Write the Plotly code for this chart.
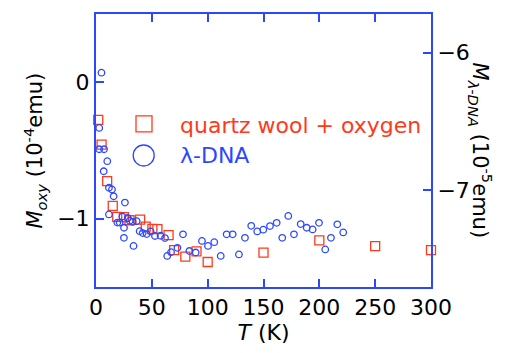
import plotly.graph_objects as go

# quartz wool + oxygen (left axis, 1e-4 emu)
T_oxy = [2, 5, 10, 15, 19, 25, 30, 39.5, 44.5, 50.5, 55, 65, 70, 80, 90, 100, 150, 200, 250, 300]
M_oxy = [-0.276, -0.457, -0.724, -0.906, -0.986, -0.988, -1.011, -1.007, -1.057, -1.074,
         -1.076, -1.12, -1.23, -1.278, -1.239, -1.317, -1.248, -1.159, -1.2, -1.23]

# lambda-DNA (right axis, 1e-5 emu)
T_dna = [4.9, 2.9, 2.9, 7.2, 10.1, 6.9, 11.6, 14.3, 15.8, 25.9, 11.6, 19.1, 21.2, 23.6, 28.4,
         30.2, 25.1, 32.8, 36.4, 25.0, 39.1, 41.8, 45.4, 48.9, 52.8, 57.8, 61.8, 33.6, 63.8,
         67.2, 72.9, 77.9, 83.6, 89.3, 94.9, 100.3, 105.9, 111.7, 117.0, 122.4, 128.0, 133.4,
         139.0, 144.4, 149.8, 155.8, 161.8, 166.8, 172.2, 177.3, 183.3, 188.7, 194.0, 199.7,
         205.3, 210.4, 216.1, 221.4]
M_dna = [-6.146, -6.548, -6.703, -6.703, -6.790, -6.863, -6.983, -6.995, -7.045, -7.091,
         -7.177, -7.236, -7.236, -7.192, -7.203, -7.223, -7.274, -7.231, -7.226, -7.347,
         -7.299, -7.313, -7.320, -7.301, -7.334, -7.332, -7.349, -7.406, -7.479, -7.452,
         -7.420, -7.322, -7.443, -7.454, -7.370, -7.406, -7.379, -7.479, -7.322, -7.322,
         -7.468, -7.347, -7.260, -7.301, -7.288, -7.262, -7.238, -7.347, -7.188, -7.322,
         -7.247, -7.274, -7.286, -7.238, -7.432, -7.347, -7.249, -7.308]

x_ticks = [0, 50, 100, 150, 200, 250, 300]

AX = "#2b48ff"
RED = "#ff3a1a"
BLUE = "#2b48ff"
FONT = "DejaVu Sans"

fig = go.Figure()
fig.add_trace(go.Scatter(x=T_dna, y=M_dna, yaxis="y2", mode="markers", cliponaxis=False,
                         marker=dict(symbol="circle-open", size=6.5, color=BLUE, line=dict(width=1.3)),
                         showlegend=False))
fig.add_trace(go.Scatter(x=T_oxy, y=M_oxy, mode="markers", cliponaxis=False,
                         marker=dict(symbol="square-open", size=9, color=RED, line=dict(width=1.3)),
                         showlegend=False))

fig.update_layout(
    width=506, height=353,
    margin=dict(l=96, r=75, t=13, b=50),
    paper_bgcolor="white", plot_bgcolor="white",
    font=dict(family=FONT, size=21, color="black"),
    xaxis=dict(range=[0, 300], tickvals=x_ticks, ticks="inside", ticklen=8, tickwidth=2,
               tickcolor=AX, showline=True, linecolor=AX, linewidth=2, mirror="ticks",
               showgrid=False, zeroline=False, tickfont=dict(size=22),
               title=dict(text="<i>T</i> (K)", font=dict(size=22), standoff=5)),
    yaxis=dict(range=[-1.5, 0.5], tickvals=[0, -1], ticks="inside", ticklen=8, tickwidth=2,
               tickcolor=AX, showline=True, linecolor=AX, linewidth=2,
               showgrid=False, zeroline=False, tickfont=dict(size=22)),
    yaxis2=dict(range=[-7.705, -5.719], tickvals=[-6, -7], overlaying="y", side="right",
                ticks="inside", ticklen=8, tickwidth=2, tickcolor=AX, showline=True,
                linecolor=AX, linewidth=2, showgrid=False, zeroline=False,
                tickfont=dict(size=22)),
    showlegend=False,
)

def px2paper_x(px):
    return (px - 96) / 335.0

def py2paper_y(py):
    return (303 - py) / 290.0

# legend symbols
fig.add_shape(type="rect", xref="paper", yref="paper", xsizemode="pixel", ysizemode="pixel",
              xanchor=px2paper_x(144), yanchor=py2paper_y(129.7), x0=-8, x1=8, y0=-8, y1=8,
              line=dict(color=RED, width=1.3))
fig.add_shape(type="circle", xref="paper", yref="paper", xsizemode="pixel", ysizemode="pixel",
              xanchor=px2paper_x(143.7), yanchor=py2paper_y(163.3), x0=-10.5, x1=10.5, y0=-10.5, y1=10.5,
              line=dict(color=BLUE, width=1.3))
fig.add_annotation(text="quartz wool + oxygen", xref="paper", yref="paper",
                   x=px2paper_x(178), y=py2paper_y(131), xanchor="left", yanchor="middle",
                   showarrow=False, font=dict(size=22, color=RED))
fig.add_annotation(text="λ-DNA", xref="paper", yref="paper",
                   x=px2paper_x(178), y=py2paper_y(163), xanchor="left", yanchor="middle",
                   showarrow=False, font=dict(size=22, color=BLUE))

# axis titles
fig.add_annotation(text="<i>M</i><sub><i>oxy</i></sub> (10<sup>-4</sup>emu)", xref="paper", yref="paper",
                   x=px2paper_x(34), y=0.5, xanchor="center", yanchor="middle", textangle=-90,
                   showarrow=False, font=dict(size=21, color="black"))
fig.add_annotation(text="<i>M</i><sub><i>λ-DNA</i></sub> (10<sup>-5</sup>emu)", xref="paper", yref="paper",
                   x=px2paper_x(481), y=0.5, xanchor="center", yanchor="middle", textangle=90,
                   showarrow=False, font=dict(size=21, color="black"))

fig.write_html("out.html")
